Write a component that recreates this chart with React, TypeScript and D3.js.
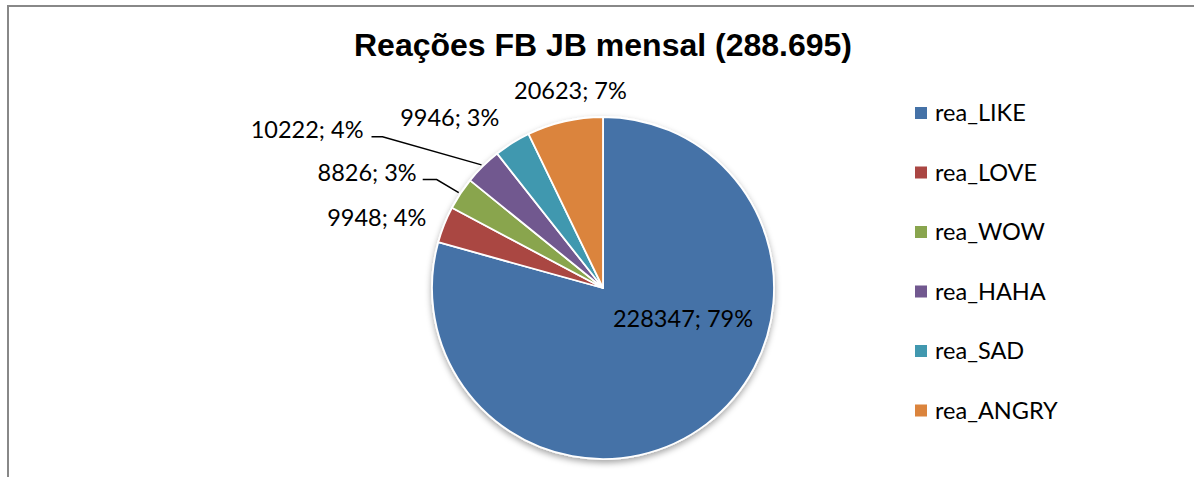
import React from "react";
import * as d3 from "d3";

const categories = ["rea_LIKE", "rea_LOVE", "rea_WOW", "rea_HAHA", "rea_SAD", "rea_ANGRY"];
const values = [228347, 9948, 8826, 10222, 9946, 20623];
const percentLabels = ["79%", "4%", "3%", "4%", "3%", "7%"];
const colors = ["#4572A7", "#AA4643", "#89A54E", "#71588F", "#4198AF", "#DB843D"];
const title = "Reações FB JB mensal (288.695)";

// label layout offsets relative to the arc point at each slice's mid-angle
type Lay = { inside?: boolean; anchor: "start" | "middle" | "end"; dx: number; dy: number; leader?: { elbowDx: number; elbowDy: number; startDx: number } };
const labelLayout: Lay[] = [
  { inside: true, anchor: "middle", dx: 20, dy: -40 },
  { anchor: "end", dx: -16, dy: 2 },
  { anchor: "end", dx: -42, dy: -12, leader: { elbowDx: -22, elbowDy: -13, startDx: -36 } },
  { anchor: "end", dx: -118, dy: -27, leader: { elbowDx: -99, elbowDy: -28, startDx: -110 } },
  { anchor: "end", dx: -12, dy: -15 },
  { anchor: "middle", dx: 6, dy: -20 },
];

const W = 1194;
const H = 477;
const cx = 603;
const cy = 288;
const R = 171;
const labelFont = "Lato, 'Open Sans', sans-serif";
const labelSize = 23.5;

export default function App() {
  const pie = d3.pie<number>().sort(null).value((d) => d)(values);
  const arc = d3.arc<d3.PieArcDatum<number>>().innerRadius(0).outerRadius(R);

  const pointAt = (angle: number, r: number): [number, number] => [Math.sin(angle) * r, -Math.cos(angle) * r];

  return (
    <svg width={W} height={H} style={{ position: "fixed", left: 0, top: 0, background: "#fff" }}>
      <defs>
        <filter id="shadow" x="-20%" y="-20%" width="140%" height="140%">
          <feDropShadow dx="0" dy="3" stdDeviation="3" floodColor="#000" floodOpacity="0.35" />
        </filter>
      </defs>
      <rect x={0} y={0} width={W} height={H} fill="#fff" />
      <rect x={8} y={6} width={W + 20} height={H + 20} fill="none" stroke="#888" strokeWidth={2} />
      <text
        x={cx}
        y={56}
        textAnchor="middle"
        fontFamily="'Liberation Sans', Arial, sans-serif"
        fontWeight="bold"
        fontSize={32}
        fill="#000"
      >
        {title}
      </text>
      <g transform={`translate(${cx},${cy})`}>
        <g filter="url(#shadow)">
          {pie.map((p, i) => (
            <path key={categories[i]} d={arc(p) || ""} fill={colors[i]} stroke="#fff" strokeWidth={1.8} strokeLinejoin="round" />
          ))}
        </g>
        {pie.map((p, i) => {
          const lay = labelLayout[i];
          const mid = (p.startAngle + p.endAngle) / 2;
          const txt = `${values[i]}; ${percentLabels[i]}`;
          if (lay.inside) {
            const [x, y] = pointAt(mid, R * 0.58);
            return (
              <text key={"l" + i} x={x + lay.dx} y={y + lay.dy} textAnchor="middle" fontFamily={labelFont} fontSize={labelSize} fill="#000">
                {txt}
              </text>
            );
          }
          const [ax, ay] = pointAt(mid, R + 2);
          return (
            <g key={"l" + i}>
              {lay.leader && (
                <polyline
                  points={`${ax + lay.leader.startDx},${ay + lay.leader.elbowDy} ${ax + lay.leader.elbowDx},${ay + lay.leader.elbowDy} ${ax},${ay}`}
                  fill="none"
                  stroke="#000"
                  strokeWidth={1.5}
                />
              )}
              <text x={ax + lay.dx} y={ay + lay.dy} textAnchor={lay.anchor} fontFamily={labelFont} fontSize={labelSize} fill="#000">
                {txt}
              </text>
            </g>
          );
        })}
      </g>
      <g transform="translate(915,113)">
        {categories.map((c, i) => (
          <g key={c} transform={`translate(0,${i * 59.5})`}>
            <rect x={0} y={-6} width={12} height={12} fill={colors[i]} />
            <text x={20} y={8} fontFamily={labelFont} fontSize={labelSize} fill="#000">
              {c}
            </text>
          </g>
        ))}
      </g>
    </svg>
  );
}
